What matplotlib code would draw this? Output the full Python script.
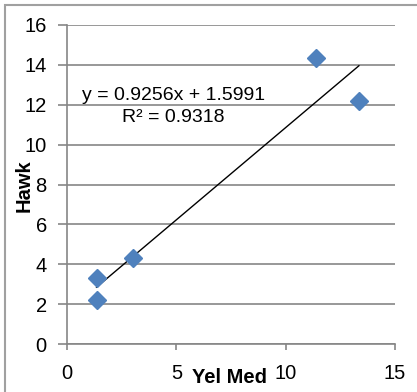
import matplotlib
matplotlib.use("Agg")
import matplotlib.pyplot as plt
import numpy as np

plt.rcParams['font.family'] = ['Liberation Sans', 'DejaVu Sans']

# Observations
yel_med = [1.35, 1.35, 3.0, 11.4, 13.35]
hawk = [3.3, 2.2, 4.33, 14.33, 12.2]

# Linear fit shown on the chart
slope = 0.9256
intercept = 1.5991
r_squared = 0.9318

x_ticks = [0, 5, 10, 15]
y_ticks = [0, 2, 4, 6, 8, 10, 12, 14, 16]

W, H = 417, 392
FS = 14.5
fig = plt.figure(figsize=(W / 100, H / 100), dpi=100)
ax = fig.add_axes([67 / W, (H - 344) / H, (395 - 67) / W, (344 - 25) / H])

grid_c = '#868686'
ax.set_xlim(0, 15)
ax.set_ylim(0, 16)
ax.set_xticks(x_ticks)
ax.set_yticks(y_ticks)
ax.yaxis.grid(True, color=grid_c, linewidth=1.2, zorder=0)
ax.set_axisbelow(True)
for s in ['top', 'right']:
    ax.spines[s].set_visible(False)
for s in ['left', 'bottom']:
    ax.spines[s].set_color(grid_c)
    ax.spines[s].set_linewidth(1.2)
ax.tick_params(axis='y', length=6.5, width=1.2, color=grid_c, pad=8, labelsize=FS)
ax.tick_params(axis='x', length=4.5, width=1.2, color=grid_c, pad=10, labelsize=FS)

# Trendline over the data range
xs = np.array([min(yel_med), max(yel_med)])
ax.plot(xs, slope * xs + intercept, color='black', linewidth=1.0, zorder=2)

ax.plot(yel_med, hawk, linestyle='none', marker='D', markersize=9,
        color='#4F81BD', markeredgecolor='#4F81BD', zorder=3)

ax.text(0.325, 0.744,
        f"y = {slope:.4f}x + {intercept:.4f}\nR\u00b2 = {r_squared:.4f}",
        transform=ax.transAxes, ha='center', va='center',
        multialignment='center', fontsize=14, linespacing=1.35)

ax.set_xlabel('Yel Med', fontsize=FS, fontweight='bold')
ax.xaxis.label.set_va('center')
ax.xaxis.set_label_coords(0.495, -0.106)
ax.set_ylabel('Hawk', fontsize=FS, fontweight='bold')
ax.yaxis.label.set_va('center')
ax.yaxis.set_label_coords(-0.131, 0.495)

# Chart frame
fig.patches.append(plt.Rectangle((5 / W, -0.1), 1.2, 1.1 - 5 / H,
                                 transform=fig.transFigure, fill=False,
                                 edgecolor='#a0a0a0', linewidth=1.5))

fig.savefig('out.png', dpi=100)
